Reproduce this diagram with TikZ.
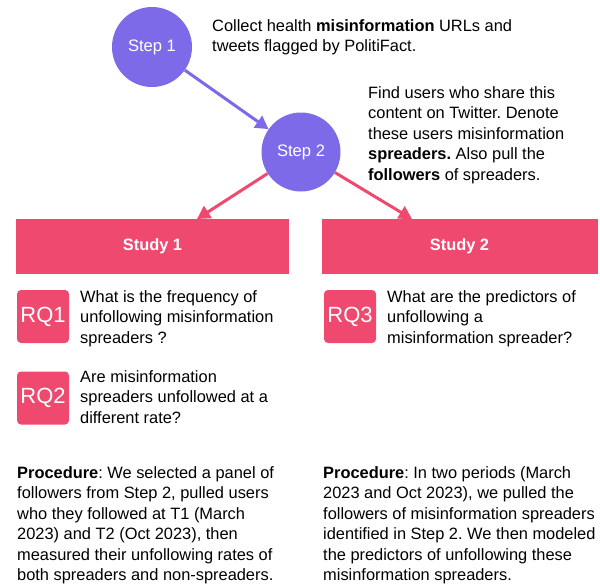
\documentclass[tikz,border=0pt]{standalone}
\usepackage{fontspec}
\setmainfont{Liberation Sans}
\usetikzlibrary{arrows.meta}
\definecolor{stepviolet}{RGB}{124,106,233}
\definecolor{studypink}{RGB}{239,73,112}
\frenchspacing
\begin{document}
\begin{tikzpicture}[x=1pt,y=-1pt,
  stepnode/.style={circle,fill=stepviolet,text=white,minimum size=80pt,inner sep=0pt,font=\fontsize{16.6}{20}\selectfont},
  studybox/.style={rectangle,fill=studypink,text=white,minimum height=55pt,inner sep=0pt,font=\fontsize{16.4}{20}\selectfont\bfseries},
  rqbox/.style={rectangle,rounded corners=4pt,fill=studypink,text=white,minimum width=52pt,minimum height=53pt,inner sep=0pt,font=\fontsize{22}{26}\selectfont},
  desc/.style={anchor=north west,align=left,inner sep=0pt,font=\fontsize{16.4}{20.5}\selectfont},
  flow/.style={line width=3pt,-{Triangle[length=13pt,width=14pt]}}
]
\useasboundingbox (0,0) rectangle (600,584);

% pipeline steps
\node[stepnode] (step1) at (152,47) {Step 1};
\node[stepnode,minimum size=79pt] (step2) at (301,152) {Step 2};

\node[desc] (txt1) at (212,19.1) {Collect health \textbf{misinformation} URLs and\\tweets flagged by PolitiFact.};
\node[desc] (txt2) at (368,86.1) {Find users who share this\\content on Twitter. Denote\\these users misinformation\\\textbf{spreaders.} Also pull the\\\textbf{followers} of spreaders.};

% studies
\node[studybox,minimum width=273pt] (study1) at (152.5,246.5) {Study 1};
\node[studybox,minimum width=276pt] (study2) at (459.5,246.5) {Study 2};

\coordinate (tip1) at (197,219);
\coordinate (tip2) at (412,219);

\draw[flow,stepviolet] (step1) -- (step2);
\draw[flow,studypink] (step2) -- (tip1);
\draw[flow,studypink] (step2) -- (tip2);

% research questions
\node[rqbox] (rq1) at (43,316.5) {RQ1};
\node[desc] (rq1t) at (80,290.1) {What is the frequency of\\unfollowing misinformation\\spreaders ?};

\node[rqbox] (rq2) at (43,398) {RQ2};
\node[desc] (rq2t) at (80,370.1) {Are misinformation\\spreaders unfollowed at a\\different rate?};

\node[rqbox] (rq3) at (350,316.5) {RQ3};
\node[desc] (rq3t) at (387,290.1) {What are the predictors of\\unfollowing a\\misinformation spreader?};

% procedures
\node[desc] (proc1) at (17,466.1) {\textbf{Procedure}: We selected a panel of\\followers from Step 2, pulled users\\who they followed at T1 (March\\2023) and T2 (Oct 2023), then\\measured their unfollowing rates of\\both spreaders and non-spreaders.};
\node[desc] (proc2) at (323,466.1) {\textbf{Procedure}: In two periods (March\\2023 and Oct 2023), we pulled the\\followers of misinformation spreaders\\identified in Step 2. We then modeled\\the predictors of unfollowing these\\misinformation spreaders.};
\end{tikzpicture}
\end{document}
